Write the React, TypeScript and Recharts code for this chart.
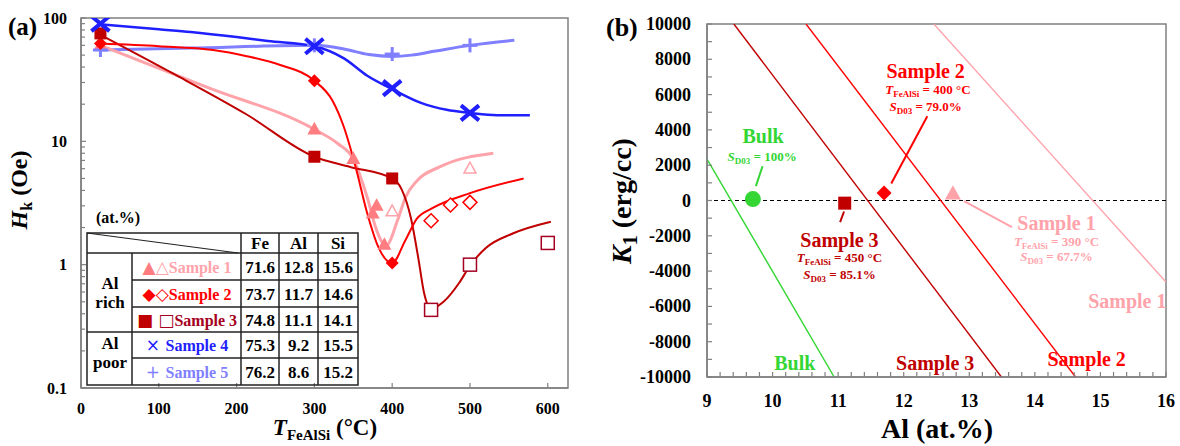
import React from 'react';
import { ComposedChart, Line, Scatter, XAxis, YAxis, ReferenceLine, ReferenceArea } from 'recharts';

const SERIF = '"Liberation Serif", "Times New Roman", Times, serif';
const SYM = '"DejaVu Sans", sans-serif';

const C1 = '#ffa3ab';
const C1F = '#ff7c80';
const C2 = '#ff0000';
const C3 = '#c00000';
const C3T = '#a50021';
const C4 = '#1f1fff';
const C5 = '#7f7fff';
const GREEN = '#33d633';
const AXIS = '#808080';

// ---------------- Panel (a) data ----------------
const aXTicks = [0, 100, 200, 300, 400, 500, 600];
const aYTicks = [0.1, 0.2, 0.3, 0.4, 0.5, 0.6, 0.7, 0.8, 0.9, 1, 2, 3, 4, 5, 6, 7, 8, 9, 10, 20, 30, 40, 50, 60, 70, 80, 90, 100];
const aYLabelled = [0.1, 1, 10, 100];

const s1Curve = [[25, 60], [165, 27], [300, 12.5], [330, 9.6], [350, 7.2], [368, 3.5], [380, 1.9], [392, 1.42], [407, 2.3], [417, 3.5], [432, 4.8], [461, 6.2], [530, 8.0]];
const s2Curve = [[25, 62], [100, 59], [170, 55], [213, 49], [256, 41.6], [300, 31], [323, 21.5], [338, 13], [353, 6.2], [368, 2.6], [382, 1.4], [400, 1.03], [417, 1.58], [432, 2.37], [451, 2.86], [500, 3.8], [569, 5.0]];
const s3Curve = [[25, 73], [120, 35], [213, 16.5], [300, 7.5], [346, 6.2], [400, 5.0], [412, 4.1], [424, 2.4], [434, 1.09], [441, 0.59], [450, 0.44], [466, 0.5], [486, 0.71], [500, 0.98], [520, 1.36], [555, 1.79], [604, 2.23]];
const s4Curve = [[25, 89], [100, 81], [141, 77], [200, 70], [240, 65], [300, 59], [338, 47], [368, 34], [400, 26.5], [437, 20.5], [470, 18], [500, 17], [535, 16.3], [577, 16.3]];
const s5Curve = [[25, 55], [141, 57], [300, 60], [338, 56], [370, 50.5], [400, 48.8], [425, 50], [456, 54], [500, 60], [557, 66]];

const s1Filled = [[25, 60], [300, 12.5], [350, 7.2], [375, 2.6], [380, 3.0], [390, 1.45]];
const s1Open = [[400, 2.7], [500, 6.0]];
const s2Filled = [[25, 62], [300, 31], [400, 1.03]];
const s2Open = [[450, 2.27], [475, 3.05], [500, 3.2]];
const s3Filled = [[25, 75], [300, 7.5], [400, 5.0]];
const s3Open = [[450, 0.43], [500, 1.0], [600, 1.5]];
const s4Pts = [[25, 90], [300, 59], [400, 27], [500, 17]];
const s5Pts = [[25, 55], [300, 60], [400, 51], [500, 60]];

// table
const sampleNames = ['Sample 1', 'Sample 2', 'Sample 3', 'Sample 4', 'Sample 5'];
const sampleSymbols = [['▲', '△'], ['◆', '◇'], ['■', ' □'], ['×', ' '], ['+', ' ']];
const feVals = ['71.6', '73.7', '74.8', '75.3', '76.2'];
const alVals = ['12.8', '11.7', '11.1', '9.2', '8.6'];
const siVals = ['15.6', '14.6', '14.1', '15.5', '15.2'];
const compHeaders = ['Fe', 'Al', 'Si'];

// ---------------- Panel (b) data ----------------
const bXTicks = [9, 9.2, 9.4, 9.6, 9.8, 10, 10.2, 10.4, 10.6, 10.8, 11, 11.2, 11.4, 11.6, 11.8, 12, 12.2, 12.4, 12.6, 12.8, 13, 13.2, 13.4, 13.6, 13.8, 14, 14.2, 14.4, 14.6, 14.8, 15, 15.2, 15.4, 15.6, 15.8, 16];
const bYTicks = [-10000, -9000, -8000, -7000, -6000, -5000, -4000, -3000, -2000, -1000, 0, 1000, 2000, 3000, 4000, 5000, 6000, 7000, 8000, 9000, 10000];

const bulkLine = [[9, 2350], [10.94, -10000]];
const b3Line = [[9.41, 10000], [13.49, -10000]];
const b2Line = [[10.51, 10000], [14.62, -10000]];
const b1Line = [[12.46, 10000], [16, -4620]];

const bulkPt = [[9.7, 80]];
const b3Pt = [[11.1, -150]];
const b2Pt = [[11.7, 430]];
const b1Pt = [[12.75, 380]];

const bulkLeader = [[9.847, 1943], [9.745, 811]];
const b2Leader = [[12.36, 4774], [11.81, 962]];
const b3Leader = [[11.09, -623], [11.03, -1226]];
const b1Leader = [[12.92, -38], [13.65, -1509]];

const bulkNotes = [
  { x: 9.855, y: 3655, kind: 'title', text: 'Bulk' },
  { x: 9.84, y: 2521, kind: 'S', text: ' = 100%' },
  { x: 10.34, y: -9207, kind: 'title', text: 'Bulk' },
];
const b2Notes = [
  { x: 12.335, y: 7337, kind: 'title', text: 'Sample 2' },
  { x: 12.37, y: 6261, kind: 'T', text: ' = 400 °C' },
  { x: 12.335, y: 5354, kind: 'S', text: ' = 79.0%' },
  { x: 14.79, y: -8980, kind: 'title', text: 'Sample 2' },
];
const b3Notes = [
  { x: 11.02, y: -2210, kind: 'title', text: 'Sample 3' },
  { x: 11.02, y: -3229, kind: 'T', text: ' = 450 °C' },
  { x: 11.02, y: -4193, kind: 'S', text: ' = 85.1%' },
  { x: 12.48, y: -9207, kind: 'title', text: 'Sample 3' },
];
const b1Notes = [
  { x: 14.33, y: -1275, kind: 'title', text: 'Sample 1' },
  { x: 14.33, y: -2295, kind: 'T', text: ' = 390 °C' },
  { x: 14.33, y: -3201, kind: 'S', text: ' = 67.7%' },
  { x: 15.41, y: -5694, kind: 'title', text: 'Sample 1' },
];

const pts = (arr: number[][]) => arr.map(([x, y]) => ({ x, y }));

// ---------------- shapes ----------------
const triShape = (fill: string, stroke: string, w: number, sw: number) => (p: any) => {
  const { cx, cy } = p;
  const h = w * 0.9;
  return <polygon points={`${cx},${cy - h * 0.6} ${cx - w / 2},${cy + h * 0.4} ${cx + w / 2},${cy + h * 0.4}`} fill={fill} stroke={stroke} strokeWidth={sw} />;
};
const diaShape = (fill: string, stroke: string, w: number, sw: number) => (p: any) => {
  const { cx, cy } = p;
  const r = w / 2;
  return <polygon points={`${cx},${cy - r} ${cx + r},${cy} ${cx},${cy + r} ${cx - r},${cy}`} fill={fill} stroke={stroke} strokeWidth={sw} />;
};
const sqShape = (fill: string, stroke: string, w: number, sw: number) => (p: any) => {
  const { cx, cy } = p;
  return <rect x={cx - w / 2} y={cy - w / 2} width={w} height={w} fill={fill} stroke={stroke} strokeWidth={sw} />;
};
const xShape = (color: string, w: number, h: number, sw: number) => (p: any) => {
  const { cx, cy } = p;
  return (
    <g stroke={color} strokeWidth={sw}>
      <line x1={cx - w / 2} y1={cy - h / 2} x2={cx + w / 2} y2={cy + h / 2} />
      <line x1={cx - w / 2} y1={cy + h / 2} x2={cx + w / 2} y2={cy - h / 2} />
    </g>
  );
};
const plusShape = (color: string, w: number, h: number, sw: number) => (p: any) => {
  const { cx, cy } = p;
  return (
    <g stroke={color} strokeWidth={sw}>
      <line x1={cx - w / 2} y1={cy} x2={cx + w / 2} y2={cy} />
      <line x1={cx} y1={cy - h / 2} x2={cx} y2={cy + h / 2} />
    </g>
  );
};
const circShape = (fill: string, r: number) => (p: any) => {
  const { cx, cy } = p;
  return <circle cx={cx} cy={cy} r={r} fill={fill} />;
};

const noteShape = (color: string) => (p: any) => {
  const { cx, cy, payload } = p;
  const { kind, text } = payload;
  if (kind === 'title') {
    return <text x={cx} y={cy + 7} textAnchor="middle" fontFamily={SERIF} fontWeight="bold" fontSize={20} fill={color}>{text}</text>;
  }
  const main = kind === 'T' ? 'T' : 'S';
  const sub = kind === 'T' ? 'FeAlSi' : 'D03';
  return (
    <text x={cx} y={cy + 4.5} textAnchor="middle" fontFamily={SERIF} fontWeight="bold" fontSize={13} fill={color}>
      <tspan fontStyle="italic">{main}</tspan>
      <tspan fontSize={9} dy={3}>{sub}</tspan>
      <tspan dy={-3}>{text}</tspan>
    </text>
  );
};

// ---------------- ticks ----------------
const XTickA = (p: any) => {
  const { x, y, payload } = p;
  return (
    <g>
      <line x1={x} x2={x} y1={y} y2={y - 5} stroke={AXIS} strokeWidth={1.2} />
      <text x={x} y={y + 26} textAnchor="middle" fontFamily={SERIF} fontWeight="bold" fontSize={16} fill="#000">{payload.value}</text>
    </g>
  );
};
const YTickA = (p: any) => {
  const { x, y, payload } = p;
  const v = payload.value;
  const major = aYLabelled.includes(v);
  return (
    <g>
      <line x1={x} x2={x + (major ? 5 : 4)} y1={y} y2={y} stroke={AXIS} strokeWidth={1.2} />
      {major && (
        <text x={x - 14} y={y + 5.5} textAnchor="end" fontFamily={SERIF} fontWeight="bold" fontSize={16} fill="#000">{v}</text>
      )}
    </g>
  );
};
const XTickB = (p: any) => {
  const { x, y, payload } = p;
  const v = payload.value;
  const major = Number.isInteger(v);
  return (
    <g>
      <line x1={x} x2={x} y1={y} y2={y - 5} stroke={AXIS} strokeWidth={1.2} />
      {major && (
        <text x={x} y={y + 30} textAnchor="middle" fontFamily={SERIF} fontWeight="bold" fontSize={18} fill="#000">{v}</text>
      )}
    </g>
  );
};
const YTickB = (p: any) => {
  const { x, y, payload } = p;
  const v = payload.value;
  const major = v % 2000 === 0;
  return (
    <g>
      <line x1={x} x2={x + 5} y1={y} y2={y} stroke={AXIS} strokeWidth={1.2} />
      {major && (
        <text x={x - 16} y={y + 6} textAnchor="end" fontFamily={SERIF} fontWeight="bold" fontSize={18} fill="#000">{v}</text>
      )}
    </g>
  );
};

function PanelA() {
  return (
    <ComposedChart width={600} height={446} margin={{ top: 18, right: 32, bottom: 0, left: 0 }}>
      <XAxis type="number" dataKey="x" domain={[0, 626]} ticks={aXTicks} interval={0} height={58} tickSize={0} tickMargin={0} tickLine={false} axisLine={{ stroke: AXIS, strokeWidth: 1.5 }} tick={XTickA} allowDataOverflow />
      <YAxis type="number" dataKey="y" scale="log" domain={[0.1, 100]} ticks={aYTicks} interval={0} width={81} tickSize={0} tickMargin={0} tickLine={false} axisLine={{ stroke: AXIS, strokeWidth: 1.5 }} tick={YTickA} allowDataOverflow />
      <ReferenceArea x1={0} x2={626} y1={0.1} y2={100} fill="none" stroke={AXIS} strokeWidth={1.5} />
      <Line data={pts(s5Curve)} dataKey="y" type="monotone" stroke={C5} strokeWidth={3} dot={false} isAnimationActive={false} />
      <Line data={pts(s1Curve)} dataKey="y" type="monotone" stroke={C1} strokeWidth={3} dot={false} isAnimationActive={false} />
      <Line data={pts(s3Curve)} dataKey="y" type="monotone" stroke={C3} strokeWidth={2} dot={false} isAnimationActive={false} />
      <Line data={pts(s2Curve)} dataKey="y" type="monotone" stroke={C2} strokeWidth={2} dot={false} isAnimationActive={false} />
      <Line data={pts(s4Curve)} dataKey="y" type="monotone" stroke={C4} strokeWidth={2.5} dot={false} isAnimationActive={false} />
      <Scatter data={pts(s1Filled)} shape={triShape(C1F, C1F, 14, 0)} isAnimationActive={false} />
      <Scatter data={pts(s1Open)} shape={triShape('none', C1, 12, 1.5)} isAnimationActive={false} />
      <Scatter data={pts(s2Open)} shape={diaShape('#fff', C2, 14, 1.5)} isAnimationActive={false} />
      <Scatter data={pts(s3Open)} shape={sqShape('#fff', C3T, 13, 1.5)} isAnimationActive={false} />
      <Scatter data={pts(s5Pts)} shape={plusShape(C5, 15, 14, 3)} isAnimationActive={false} />
      <Scatter data={pts(s2Filled)} shape={diaShape(C2, C2, 13, 0)} isAnimationActive={false} />
      <Scatter data={pts(s3Filled)} shape={sqShape(C3, C3, 12, 0)} isAnimationActive={false} />
      <Scatter data={pts(s4Pts)} shape={xShape(C4, 18, 15, 4)} isAnimationActive={false} />
    </ComposedChart>
  );
}

function PanelB() {
  return (
    <ComposedChart width={580} height={446} margin={{ top: 24, right: 14, bottom: 0, left: 0 }}>
      <XAxis type="number" dataKey="x" domain={[9, 16]} ticks={bXTicks} interval={0} height={69} tickSize={0} tickMargin={0} tickLine={false} axisLine={{ stroke: AXIS, strokeWidth: 1.5 }} tick={XTickB} allowDataOverflow />
      <YAxis type="number" dataKey="y" domain={[-10000, 10000]} ticks={bYTicks} interval={0} width={107} tickSize={0} tickMargin={0} tickLine={false} axisLine={{ stroke: AXIS, strokeWidth: 1.5 }} tick={YTickB} allowDataOverflow />
      <ReferenceArea x1={9} x2={16} y1={-10000} y2={10000} fill="none" stroke={AXIS} strokeWidth={1.5} />
      <ReferenceLine y={0} stroke="#000" strokeWidth={1} strokeDasharray="4 3" />
      <Line data={pts(bulkLine)} dataKey="y" type="linear" stroke={GREEN} strokeWidth={1.4} dot={false} isAnimationActive={false} />
      <Line data={pts(b3Line)} dataKey="y" type="linear" stroke={C3} strokeWidth={1.4} dot={false} isAnimationActive={false} />
      <Line data={pts(b2Line)} dataKey="y" type="linear" stroke={C2} strokeWidth={1.4} dot={false} isAnimationActive={false} />
      <Line data={pts(b1Line)} dataKey="y" type="linear" stroke={C1} strokeWidth={1.4} dot={false} isAnimationActive={false} />
      <Line data={pts(bulkLeader)} dataKey="y" type="linear" stroke={GREEN} strokeWidth={2} dot={false} isAnimationActive={false} />
      <Line data={pts(b2Leader)} dataKey="y" type="linear" stroke={C2} strokeWidth={2} dot={false} isAnimationActive={false} />
      <Line data={pts(b3Leader)} dataKey="y" type="linear" stroke={C3} strokeWidth={2} dot={false} isAnimationActive={false} />
      <Line data={pts(b1Leader)} dataKey="y" type="linear" stroke={C1} strokeWidth={2} dot={false} isAnimationActive={false} />
      <Scatter data={pts(bulkPt)} shape={circShape(GREEN, 8)} isAnimationActive={false} />
      <Scatter data={pts(b3Pt)} shape={sqShape(C3, C3, 13, 0)} isAnimationActive={false} />
      <Scatter data={pts(b2Pt)} shape={diaShape(C2, C2, 15, 0)} isAnimationActive={false} />
      <Scatter data={pts(b1Pt)} shape={triShape(C1, C1, 16, 0)} isAnimationActive={false} />
      <Scatter data={bulkNotes} shape={noteShape(GREEN)} isAnimationActive={false} />
      <Scatter data={b2Notes} shape={noteShape(C2)} isAnimationActive={false} />
      <Scatter data={b3Notes} shape={noteShape(C3)} isAnimationActive={false} />
      <Scatter data={b1Notes} shape={noteShape(C1)} isAnimationActive={false} />
    </ComposedChart>
  );
}

const sampleColors = [[C1F, C1, C1], [C2, C2, C2], [C3, C3T, C3T], [C4, C4, C4], [C5, C5, C5]];

function Overlay() {
  const tl = 87, tr = 358, tt = 233;
  const colX = [87, 132, 241, 279, 318, 358];
  const rowY = [233, 253, 280, 307, 332, 358, 385];
  const lineStyle = { stroke: '#222', strokeWidth: 1.5 };
  const bold = { fontFamily: SERIF, fontWeight: 'bold' as const };
  return (
    <svg width={1180} height={446} style={{ position: 'absolute', left: 0, top: 0, pointerEvents: 'none' }}>
      <text x={8} y={35} fontSize={25} {...bold}>(a)</text>
      <text x={606} y={36} fontSize={26} {...bold}>(b)</text>
      <text transform="translate(27,190) rotate(-90)" textAnchor="middle" fontSize={24} {...bold}>
        <tspan fontStyle="italic">H</tspan>
        <tspan fontSize={16} dy={5}>k</tspan>
        <tspan dy={-5}> (Oe)</tspan>
      </text>
      <text x={325} y={435} textAnchor="middle" fontSize={23} {...bold}>
        <tspan fontStyle="italic">T</tspan>
        <tspan fontSize={15} dy={5}>FeAlSi</tspan>
        <tspan dy={-5}> (°C)</tspan>
      </text>
      <text transform="translate(631,201) rotate(-90)" textAnchor="middle" fontSize={28} {...bold}>
        <tspan fontStyle="italic">K</tspan>
        <tspan fontSize={20} dy={6}>1</tspan>
        <tspan dy={-6}> (erg/cc)</tspan>
      </text>
      <text x={937} y={438} textAnchor="middle" fontSize={28} {...bold}>Al (at.%)</text>

      <text x={118} y={223} textAnchor="middle" fontSize={16} {...bold}>(at.%)</text>
      <rect x={tl} y={tt} width={tr - tl} height={rowY[6] - tt} fill="none" {...lineStyle} />
      <line x1={tl} y1={rowY[1]} x2={tr} y2={rowY[1]} {...lineStyle} />
      <line x1={colX[1]} y1={rowY[2]} x2={tr} y2={rowY[2]} {...lineStyle} />
      <line x1={colX[1]} y1={rowY[3]} x2={tr} y2={rowY[3]} {...lineStyle} />
      <line x1={tl} y1={rowY[4]} x2={tr} y2={rowY[4]} {...lineStyle} />
      <line x1={colX[1]} y1={rowY[5]} x2={tr} y2={rowY[5]} {...lineStyle} />
      <line x1={colX[1]} y1={rowY[1]} x2={colX[1]} y2={rowY[6]} {...lineStyle} />
      {[2, 3, 4].map((i) => (
        <line key={i} x1={colX[i]} y1={tt} x2={colX[i]} y2={rowY[6]} {...lineStyle} />
      ))}
      <line x1={tl} y1={tt} x2={colX[2] - 3} y2={rowY[1]} stroke="#222" strokeWidth={1.2} />
      {compHeaders.map((h, i) => (
        <text key={h} x={(colX[i + 2] + colX[i + 3]) / 2} y={249} textAnchor="middle" fontSize={17} {...bold}>{h}</text>
      ))}
      <text x={110} y={289} textAnchor="middle" fontSize={17} {...bold}>Al</text>
      <text x={110} y={308} textAnchor="middle" fontSize={17} {...bold}>rich</text>
      <text x={110} y={349} textAnchor="middle" fontSize={17} {...bold}>Al</text>
      <text x={110} y={368} textAnchor="middle" fontSize={17} {...bold}>poor</text>
      {sampleNames.map((name, i) => {
        const cy = (rowY[i + 1] + rowY[i + 2]) / 2 + 6;
        const [cf, co, ct] = sampleColors[i];
        return (
          <g key={name}>
            <text x={187} y={cy} textAnchor="middle" fontSize={16} {...bold}>
              <tspan fontFamily={SYM} fontWeight="normal" fontSize={17} fill={cf}>{sampleSymbols[i][0]}</tspan>
              <tspan fontFamily={SYM} fontWeight="normal" fontSize={17} fill={co}>{sampleSymbols[i][1]}</tspan>
              <tspan fill={ct}>{name}</tspan>
            </text>
            <text x={(colX[2] + colX[3]) / 2} y={cy} textAnchor="middle" fontSize={17} {...bold}>{feVals[i]}</text>
            <text x={(colX[3] + colX[4]) / 2} y={cy} textAnchor="middle" fontSize={17} {...bold}>{alVals[i]}</text>
            <text x={(colX[4] + colX[5]) / 2} y={cy} textAnchor="middle" fontSize={17} {...bold}>{siVals[i]}</text>
          </g>
        );
      })}
    </svg>
  );
}

export default function App() {
  return (
    <div style={{ position: 'absolute', left: 0, top: 0, width: 1180, height: 446, background: '#fff', overflow: 'hidden' }}>
      <div style={{ position: 'absolute', left: 0, top: 0 }}>
        <PanelA />
      </div>
      <div style={{ position: 'absolute', left: 600, top: 0 }}>
        <PanelB />
      </div>
      <Overlay />
    </div>
  );
}
